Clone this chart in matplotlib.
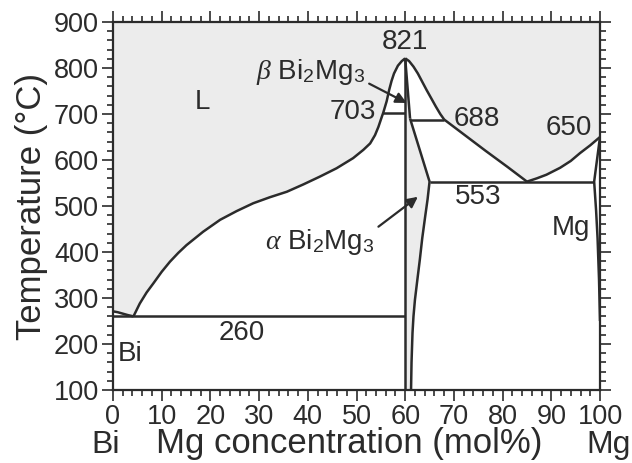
import numpy as np
import matplotlib
matplotlib.use('Agg')
import matplotlib.pyplot as plt
import matplotlib.ticker as ticker
import matplotlib.transforms as mtransforms

plt.rcParams['font.family'] = ['Liberation Sans', 'DejaVu Sans']
plt.rcParams['mathtext.fontset'] = 'custom'
plt.rcParams['mathtext.rm'] = 'Liberation Sans'
plt.rcParams['mathtext.it'] = 'Liberation Serif:italic'

# Bi-Mg phase boundaries (x = mol% Mg, y = temperature in C)
bi_liq_x = [0, 1, 2, 3, 4.2]
bi_liq_y = [271, 269, 266, 263, 260]
liq_left_x = [4.2, 5.5, 6.9, 8.3, 10, 11.7, 13.4, 15.1, 18.5, 22, 25.4, 28.8, 32.2, 35.7,
              39.1, 42.5, 45.9, 49.3, 51.4, 52.8, 53.8, 54.5, 55.2, 55.5, 56.2, 56.7,
              57.2, 57.7, 58.5, 59.3, 60]
liq_left_y = [260, 288, 312, 332, 357, 379, 398, 415, 444, 470, 489, 506, 519, 531,
              547, 564, 582, 604, 622, 636, 654, 672, 694, 703, 728, 752,
              772, 788, 805, 815, 821]
liq_right_x = [60, 60.8, 61.7, 62.6, 63.5, 64.4, 65.3, 66.3, 67.2, 68, 72, 76.5, 81, 85]
liq_right_y = [821, 815, 803, 788, 770, 752, 735, 716, 700, 688, 656, 620, 585, 553]
liq_mg_x = [85, 87, 89, 91.8, 94, 95.9, 98, 100]
liq_mg_y = [553, 560, 568, 583, 598, 615, 632, 650]
beta_x = [60, 61]
beta_y = [821, 690]
alpha_x = [61, 65, 64.6, 64.1, 63.5, 63, 62.5, 62, 61.7, 61.5, 61.3, 61.2]
alpha_y = [690, 553, 515, 477, 430, 383, 340, 296, 260, 224, 160, 100]
mg_sol_x = [100, 98.8, 99.2, 99.5, 99.8, 100]
mg_sol_y = [650, 553, 490, 430, 340, 250]
compound_x = 60
eutectic_bi = 260      # 0 .. 60
peritectic_703 = 703   # 55.5 .. 60
transition_688 = 688   # 61 .. 68
eutectic_mg = 553      # 65 .. 98.8
t_min, t_max = 100, 900

tc = '#2b2b2b'
line_kw = dict(color=tc, lw=1.8, solid_capstyle='butt', solid_joinstyle='round')
grey = '#ececec'

fig = plt.figure(figsize=(6.32, 4.63), dpi=100)
ax = fig.add_axes([113/632, 1-390/463, 487/632, 368/463])
ax.set_xlim(0, 100)
ax.set_ylim(t_min, t_max)

# liquid region
lx = np.concatenate([[0, 100], liq_mg_x[::-1], liq_right_x[::-1][1:], liq_left_x[::-1][1:], bi_liq_x[::-1][1:]])
ly = np.concatenate([[t_max, t_max], liq_mg_y[::-1], liq_right_y[::-1][1:], liq_left_y[::-1][1:], bi_liq_y[::-1][1:]])
ax.fill(lx, ly, color=grey, lw=0, zorder=0)
# Bi2Mg3 single-phase region
cx = np.concatenate([[compound_x], beta_x, alpha_x[1:], [compound_x]])
cy = np.concatenate([[t_min], beta_y, alpha_y[1:], [t_min]])
ax.fill(cx, cy, color=grey, lw=0, zorder=0)

ax.plot(bi_liq_x, bi_liq_y, **line_kw)
ax.plot(liq_left_x, liq_left_y, **line_kw)
ax.plot(liq_right_x, liq_right_y, **line_kw)
ax.plot(liq_mg_x, liq_mg_y, **line_kw)
ax.plot(beta_x, beta_y, **line_kw)
ax.plot(alpha_x, alpha_y, **line_kw)
ax.plot(mg_sol_x, mg_sol_y, **line_kw)
ax.plot([compound_x, compound_x], [t_min, 821], **line_kw)
ax.plot([0, 60], [eutectic_bi, eutectic_bi], **line_kw)
ax.plot([55.5, 60], [peritectic_703, peritectic_703], **line_kw)
ax.plot([61, 68], [transition_688, transition_688], **line_kw)
ax.plot([65, 98.8], [eutectic_mg, eutectic_mg], **line_kw)

fs = 20
ax.text(60, 856, '821', ha='center', va='center', fontsize=fs, color=tc)
ax.text(54, 705, '703', ha='right', va='center', fontsize=fs, color=tc)
ax.text(70, 690, '688', ha='left', va='center', fontsize=fs, color=tc)
ax.text(93.5, 669, '650', ha='center', va='center', fontsize=fs, color=tc)
ax.text(75, 520, '553', ha='center', va='center', fontsize=fs, color=tc)
ax.text(26.5, 224, '260', ha='center', va='center', fontsize=fs, color=tc)
ax.text(18.3, 726, 'L', ha='center', va='center', fontsize=fs, color=tc)
ax.text(1.0, 178, 'Bi', ha='left', va='center', fontsize=fs, color=tc)
ax.text(94, 452, 'Mg', ha='center', va='center', fontsize=fs, color=tc)
ax.text(29.4, 791, r'$\beta$ Bi$_2$Mg$_3$', ha='left', va='center', fontsize=fs, color=tc)
ax.text(31.2, 422, r'$\alpha$ Bi$_2$Mg$_3$', ha='left', va='center', fontsize=fs, color=tc)

arrow_kw = dict(arrowstyle='-|>', color=tc, lw=1.6, mutation_scale=16, shrinkA=0, shrinkB=0)
ax.annotate('', xy=(60.3, 724), xytext=(52.6, 766), arrowprops=arrow_kw)
ax.annotate('', xy=(62.6, 520), xytext=(54.5, 455), arrowprops=arrow_kw)

# ticks on all four sides, pointing out
ax.xaxis.set_major_locator(ticker.MultipleLocator(10))
ax.xaxis.set_minor_locator(ticker.MultipleLocator(2))
ax.yaxis.set_major_locator(ticker.MultipleLocator(100))
ax.yaxis.set_minor_locator(ticker.MultipleLocator(20))
ax.tick_params(which='both', direction='out', top=True, right=True, color=tc, width=1.2)
ax.tick_params(which='major', length=8, labelsize=19.5, labelcolor=tc, pad=2)
ax.tick_params(which='minor', length=4)
for s in ax.spines.values():
    s.set_linewidth(1.6)
    s.set_color(tc)

ax.set_ylabel('Temperature (°C)', fontsize=25, color=tc, labelpad=4)

# x label and the two end members share one baseline under the tick labels
trans = mtransforms.blended_transform_factory(ax.transData, ax.transAxes)
ax.text(48.5, -0.171, 'Mg concentration (mol%)', transform=trans, ha='center', va='baseline',
        fontsize=25, color=tc, clip_on=False)
ax.text(-1.6, -0.171, 'Bi', transform=trans, ha='center', va='baseline', fontsize=23, color=tc, clip_on=False)
ax.text(101.8, -0.171, 'Mg', transform=trans, ha='center', va='baseline', fontsize=23, color=tc, clip_on=False)

fig.savefig('out.png', dpi=100)
